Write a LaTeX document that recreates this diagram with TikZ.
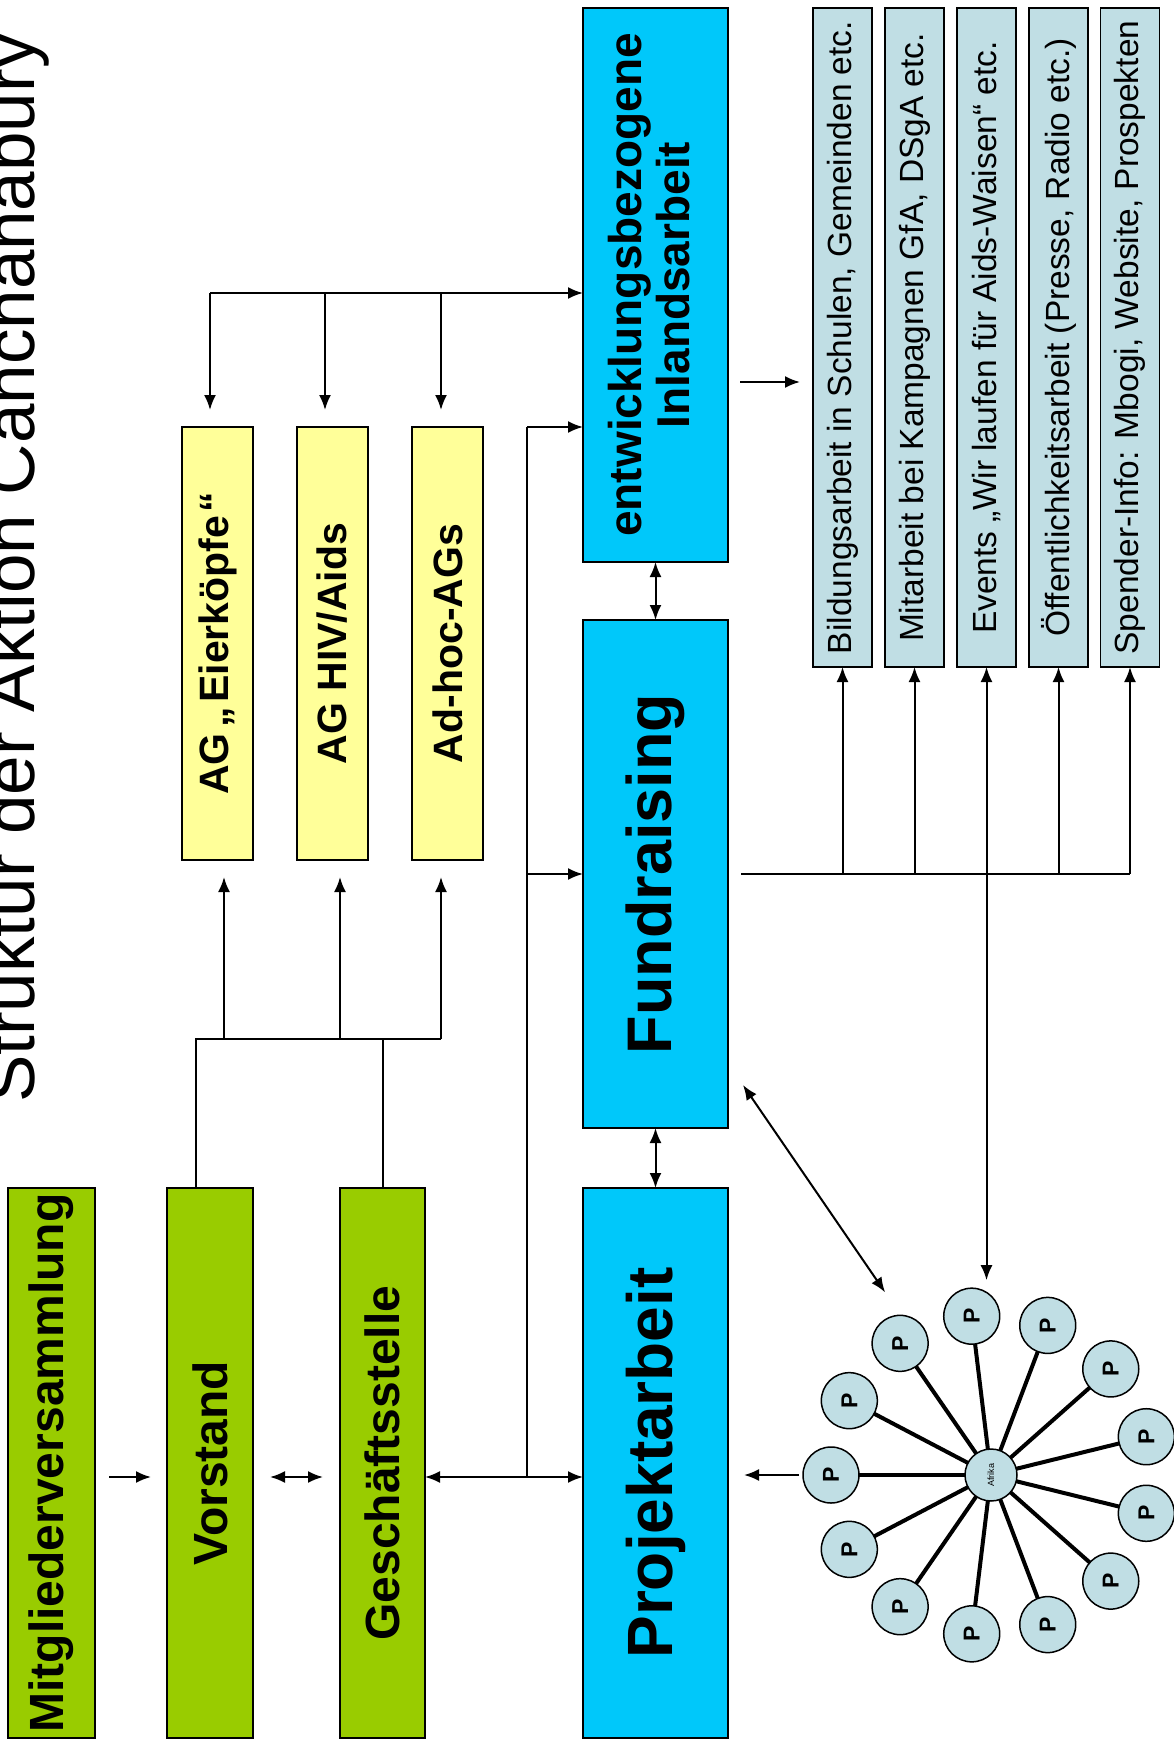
\documentclass[tikz,border=0pt]{standalone}
\usepackage{fontspec}
\setmainfont{Liberation Sans}
\usetikzlibrary{arrows.meta,calc}
\definecolor{grn}{RGB}{153,204,0}
\definecolor{blu}{RGB}{0,200,250}
\definecolor{yel}{RGB}{255,255,153}
\definecolor{lbl}{RGB}{192,222,228}
\newcommand{\myrot}[1]{\rotatebox{90}{#1}}
\tikzset{
  box/.style={draw=black, line width=1.6pt, inner sep=0pt, outer sep=0pt, align=center},
  gbox/.style={box, fill=grn, minimum height=550pt, font=\fontsize{48pt}{56pt}\selectfont\bfseries},
  bbox/.style={box, fill=blu, minimum width=145pt, font=\bfseries},
  ybox/.style={box, fill=yel, minimum width=71pt, minimum height=433pt, font=\fontsize{41pt}{48pt}\selectfont\bfseries},
  lbox/.style={box, fill=lbl, minimum width=59pt, minimum height=659pt, font=\fontsize{33.5pt}{40pt}\selectfont},
  pcirc/.style={circle, draw=black, line width=1.5pt, fill=lbl, minimum size=56pt, inner sep=0pt, outer sep=0pt, font=\fontsize{23pt}{26pt}\selectfont\bfseries},
  wire/.style={line width=2pt},
  conn/.style={line width=2pt, -{Latex[length=15pt,width=12pt]}},
  conntwo/.style={line width=2pt, {Latex[length=15pt,width=12pt]}-{Latex[length=15pt,width=12pt]}},
  spoke/.style={line width=4pt}
}
\begin{document}
\begin{tikzpicture}[x=1pt,y=-1pt]
\useasboundingbox[fill=white] (0,0) rectangle (1174,1742);

% title
\node[rotate=90, anchor=base, inner sep=0pt, font=\fontsize{71pt}{80pt}\selectfont] (title) at (34,568) {Struktur der Aktion Canchanabury};

% green column
\node[gbox, minimum width=87pt] (mv) at (51.5,1463) {\myrot{Mitgliederversammlung}};
\node[gbox, minimum width=86pt] (vs) at (210,1463) {\myrot{Vorstand}};
\node[gbox, minimum width=85pt] (gs) at (382.5,1463) {\myrot{Geschäftsstelle}};

% blue column
\node[bbox, minimum height=554pt, font=\fontsize{46pt}{48pt}\selectfont\bfseries] (ei) at (655.5,285)
  {\myrot{\begin{tabular}{@{}c@{}}entwicklungsbezogene\\Inlandsarbeit\end{tabular}}};
\node[bbox, minimum height=508pt, font=\fontsize{63pt}{70pt}\selectfont\bfseries] (fr) at (655.5,874) {\myrot{Fundraising}};
\node[bbox, minimum height=550pt, font=\fontsize{64pt}{70pt}\selectfont\bfseries] (pa) at (655.5,1463) {\myrot{Projektarbeit}};

% yellow AGs
\node[ybox] (agE) at (217.5,643.5) {\myrot{AG\kern6pt„\kern4pt Eierköpfe\kern3pt“}};
\node[ybox] (agH) at (332.5,643.5) {\myrot{AG HIV/Aids}};
\node[ybox] (adh) at (447.5,643.5) {\myrot{Ad-hoc-AGs}};

% light blue activities
\node[lbox] (bi) at (842.5,337.5) {\myrot{Bildungsarbeit in Schulen, Gemeinden etc.}};
\node[lbox] (mi) at (914.5,337.5) {\myrot{Mitarbeit bei Kampagnen GfA, DSgA etc.}};
\node[lbox] (ev) at (986.5,337.5) {\myrot{Events „Wir laufen für Aids-Waisen“ etc.}};
\node[lbox] (oe) at (1058.5,337.5) {\myrot{Öffentlichkeitsarbeit (Presse, Radio etc.)}};
\node[lbox] (sp) at (1130,337.5) {\myrot{Spender-Info: Mbogi, Website, Prospekten}};

% star of projects
\coordinate (sc) at (991,1475);
\foreach \i in {0,...,12}
  \node[pcirc] (p\i) at ($(sc)+({180+\i*360/13}:160)$) {\myrot{P}};
\node[pcirc, minimum size=52pt, font=\fontsize{9pt}{10pt}\selectfont] (af) at (sc) {\myrot{Afrika}};
\foreach \i in {0,...,12}
  \draw[spoke] (af) -- (p\i);

% helper levels
\coordinate (yb) at (0,1477);
\coordinate (yc) at (0,427);
\coordinate (ya) at (0,382);
\coordinate (tl) at (210,293);
\coordinate (dH) at (325,0);
\coordinate (dA) at (441,0);
\coordinate (vl) at (196,1039);
\coordinate (uE) at (224,0);
\coordinate (uH) at (340,0);
\coordinate (br) at (527,1477);

% bottom row arrows
\draw[conn, shorten <=14pt, shorten >=16pt] (mv.east |- yb) -- (vs.west |- yb);
\draw[conntwo, shorten <=17pt, shorten >=17pt] (vs.east |- yb) -- (gs.west |- yb);
\draw[conntwo] (gs.east |- yb) -- (pa.west |- yb);
\draw[wire] (br) -- (br |- yc);
\draw[conn] (br |- yc) -- (ei.west |- yc);
\draw[conn] (br |- fr.west) -- (fr.west);

% Vorstand / Geschaeftsstelle to AGs
\draw[wire] (vl |- vs.north) -- (vl) -- (dA |- vl);
\draw[wire] (gs.north) -- (gs.north |- vl);
\draw[conn, shorten >=17pt] (uE |- vl) -- (uE |- agE.south);
\draw[conn, shorten >=17pt] (uH |- vl) -- (uH |- agH.south);
\draw[conn, shorten >=17pt] (dA |- vl) -- (dA |- adh.south);

% top line: AGs to entwicklungsbezogene Inlandsarbeit
\draw[conn] (tl) -- (tl -| ei.west);
\draw[conn, shorten >=17pt] (tl) -- (tl |- agE.north);
\draw[conn, shorten >=17pt] (dH |- tl) -- (dH |- agH.north);
\draw[conn, shorten >=17pt] (dA |- tl) -- (dA |- adh.north);

% blue column links
\draw[conntwo] (ei.south) -- (fr.north);
\draw[conntwo] (fr.south) -- (pa.north);

% to activities
\draw[conn, shorten <=12pt, shorten >=13pt] (ei.east |- ya) -- (bi.west |- ya);
\draw[wire] ([xshift=13pt]fr.east) -- (sp.south |- fr.east);
\draw[conn] (bi.south |- fr.east) -- (bi.south);
\draw[conn] (mi.south |- fr.east) -- (mi.south);
\draw[conn] (ev.south |- fr.east) -- (ev.south);
\draw[conn] (oe.south |- fr.east) -- (oe.south);
\draw[conn] (sp.south |- fr.east) -- (sp.south);
\draw[conn, shorten >=8pt] (ev.south |- fr.east) -- (ev.south |- p3.north);

% star links
\draw[conntwo] ($(fr.south east)+(15,-43)$) -- ($(p2)+(-15,-51)$);
\draw[conn, shorten <=4pt, shorten >=16pt] (p0.west) -- (p0.west -| pa.east);
\end{tikzpicture}
\end{document}
